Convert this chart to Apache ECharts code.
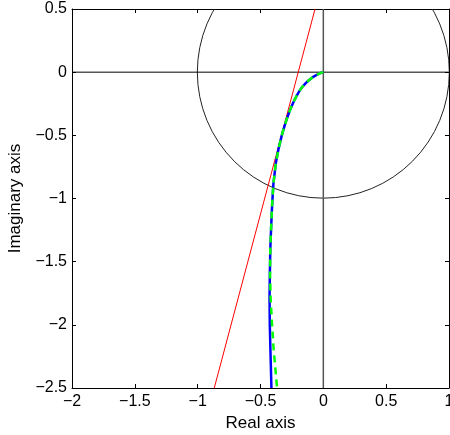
<!DOCTYPE html>
<html><head><meta charset="utf-8">
<script src="https://cdn.jsdelivr.net/npm/echarts@6/dist/echarts.min.js"></script>
<style>html,body{margin:0;padding:0;background:#fff}#c{width:450px;height:435px}</style>
</head><body><div id="c"></div>
<script>
const xTicks = [-2, -1.5, -1, -0.5, 0, 0.5, 1];
const yTicks = [-2.5, -2, -1.5, -1, -0.5, 0, 0.5];
const blueRe = [0, -0.02, -0.04, -0.06, -0.08, -0.1, -0.12, -0.14, -0.16, -0.178, -0.194, -0.21, -0.226, -0.24, -0.253, -0.265, -0.276, -0.292, -0.306, -0.32, -0.333, -0.356, -0.378, -0.397, -0.407, -0.415, -0.422, -0.426, -0.428, -0.426, -0.421, -0.413];
const blueIm = [0, -0.006, -0.015, -0.025, -0.037, -0.052, -0.068, -0.087, -0.108, -0.13, -0.155, -0.183, -0.213, -0.242, -0.271, -0.3, -0.329, -0.374, -0.417, -0.463, -0.51, -0.605, -0.72, -0.88, -1.04, -1.22, -1.4, -1.62, -1.8, -2.0, -2.2, -2.5];
const greenRe = [0, -0.02, -0.04, -0.06, -0.08, -0.1, -0.12, -0.14, -0.16, -0.178, -0.194, -0.21, -0.226, -0.24, -0.253, -0.265, -0.276, -0.292, -0.306, -0.32, -0.333, -0.356, -0.378, -0.397, -0.407, -0.415, -0.422, -0.424, -0.419, -0.408, -0.395, -0.368];
const greenIm = [0, -0.006, -0.015, -0.025, -0.037, -0.052, -0.068, -0.087, -0.108, -0.13, -0.155, -0.183, -0.213, -0.242, -0.271, -0.3, -0.329, -0.374, -0.417, -0.463, -0.51, -0.605, -0.72, -0.88, -1.04, -1.22, -1.4, -1.6, -1.8, -2.0, -2.2, -2.5];
const redRe = [-0.868, -0.066];
const redIm = [-2.5, 0.5];
const circle = [[0, 0, 1]]; // center re, center im, radius

const zip = (a, b) => a.map((v, i) => [v, b[i]]);
const fmt = v => String(v).replace('-', '\u2212');
const font = 'Liberation Sans, Arial, sans-serif';

const chart = echarts.init(document.getElementById('c'), null, {renderer: 'canvas'});
const baseX = {
  type: 'value', min: xTicks[0], max: xTicks[xTicks.length - 1], interval: 0.5,
  axisLine: {onZero: false, lineStyle: {color: '#000', width: 1}},
  axisTick: {inside: true, length: 4, lineStyle: {color: '#000'}},
  splitLine: {show: false}
};
const baseY = {
  type: 'value', min: yTicks[0], max: yTicks[yTicks.length - 1], interval: 0.5,
  axisLine: {onZero: false, lineStyle: {color: '#000', width: 1}},
  axisTick: {inside: true, length: 4, lineStyle: {color: '#000'}},
  splitLine: {show: false}
};
chart.setOption({
  animation: false,
  grid: {left: 72, right: 1, top: 9, bottom: 47, containLabel: false, outerBoundsMode: 'none'},
  xAxis: [
    Object.assign({}, baseX, {
      position: 'bottom', name: 'Real axis', nameLocation: 'middle', nameGap: 23,
      nameTextStyle: {color: '#000', fontSize: 17, fontFamily: font},
      axisLabel: {color: '#000', fontSize: 16, fontFamily: font, margin: 6, formatter: fmt,
                  showMinLabel: true, showMaxLabel: true, hideOverlap: false}
    }),
    Object.assign({}, baseX, {position: 'top', axisLabel: {show: false}})
  ],
  yAxis: [
    Object.assign({}, baseY, {
      position: 'left', name: 'Imaginary axis', nameLocation: 'middle', nameGap: 48,
      nameTextStyle: {color: '#000', fontSize: 17, fontFamily: font},
      axisLabel: {color: '#000', fontSize: 16, fontFamily: font, margin: 5, formatter: fmt,
                  showMinLabel: true, showMaxLabel: true, hideOverlap: false}
    }),
    Object.assign({}, baseY, {position: 'right', axisLabel: {show: false}})
  ],
  series: [
    {
      type: 'custom', xAxisIndex: 0, yAxisIndex: 0, clip: true, silent: true,
      data: circle, encode: {x: 0, y: 1},
      renderItem: (params, api) => {
        const c = api.coord([api.value(0), api.value(1)]);
        const s = api.size([api.value(2), api.value(2)]);
        return {
          type: 'circle',
          shape: {cx: c[0], cy: c[1], r: (s[0] + s[1]) / 2},
          style: {fill: 'none', stroke: '#222', lineWidth: 1}
        };
      }
    },
    {type: 'line', data: [[xTicks[0], 0], [xTicks[xTicks.length - 1], 0]], symbol: 'none',
     lineStyle: {color: '#000', width: 1}, silent: true},
    {type: 'line', data: [[0, yTicks[0]], [0, yTicks[yTicks.length - 1]]], symbol: 'none',
     lineStyle: {color: '#555', width: 1.5}, silent: true},
    {type: 'line', data: zip(redRe, redIm), symbol: 'none',
     lineStyle: {color: '#ff0000', width: 1}, silent: true},
    {type: 'line', data: zip(blueRe, blueIm), symbol: 'none',
     lineStyle: {color: '#0000ff', width: 2.5}, silent: true},
    {type: 'line', data: zip(greenRe, greenIm), symbol: 'none',
     lineStyle: {color: '#00ff00', width: 2.5, type: [7, 5]}, silent: true}
  ]
});
</script></body></html>
